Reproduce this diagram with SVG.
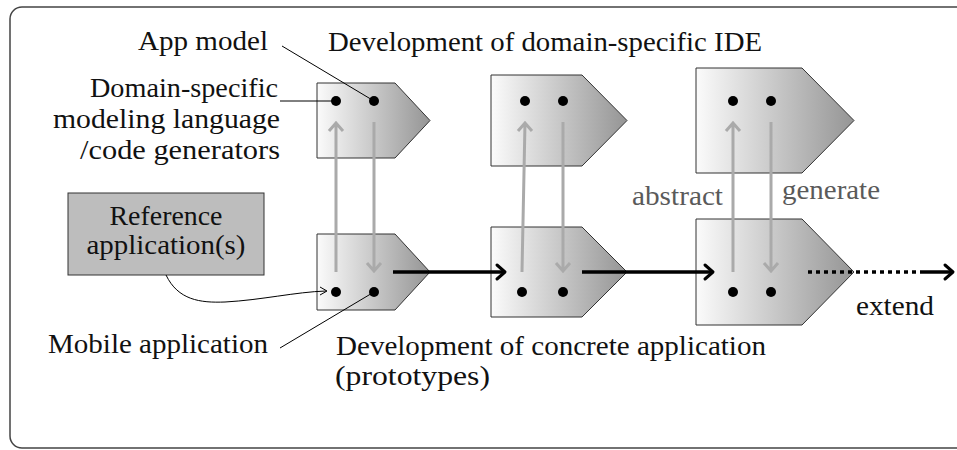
<svg xmlns="http://www.w3.org/2000/svg" width="957" height="450" viewBox="0 0 957 450">
<style>
text{font-family:"Liberation Serif","DejaVu Serif",serif;font-size:27px;fill:#111}
.g{fill:#5a5a5a}
.node{fill:url(#grad);stroke:#333;stroke-width:1}
.dot{fill:#000}
.gray{stroke:#aaa;stroke-width:3;fill:none}
.blk{stroke:#000;stroke-width:3.5;fill:none}
.head{stroke:#000;stroke-width:3;fill:none;stroke-linecap:round;stroke-linejoin:round}
.thin{stroke:#000;stroke-width:1;fill:none}
</style>
<defs>
<linearGradient id="grad" x1="0" y1="0" x2="1" y2="0">
<stop offset="0" stop-color="#fbfbfb"/>
<stop offset="1" stop-color="#959595"/>
</linearGradient>
</defs>
<rect x="10" y="7" width="965" height="441" rx="12" fill="#fff" stroke="#444" stroke-width="1.5"/>

<g id="ref">
<rect x="68" y="193" width="196" height="82" fill="#bdbdbd" stroke="#333" stroke-width="1"/>
<text x="166" y="225" text-anchor="middle" textLength="113" lengthAdjust="spacingAndGlyphs">Reference</text>
<text x="166" y="254" text-anchor="middle" textLength="159" lengthAdjust="spacingAndGlyphs">application(s)</text>
</g>

<g id="n1top"><polygon class="node" points="317,83 395,83 430,120.5 395,158 317,158"/><circle class="dot" cx="336" cy="101" r="5"/><circle class="dot" cx="374" cy="101" r="5"/></g>
<g id="n1bot"><polygon class="node" points="317,234 395,234 430,272 395,310 317,310"/><circle class="dot" cx="336" cy="292" r="5"/><circle class="dot" cx="374" cy="292" r="5"/></g>
<g id="n2top"><polygon class="node" points="491,75 582,75 627,120.5 582,166 491,166"/><circle class="dot" cx="525" cy="101" r="5"/><circle class="dot" cx="563" cy="101" r="5"/></g>
<g id="n2bot"><polygon class="node" points="491,227 582,227 627,272 582,317 491,317"/><circle class="dot" cx="522" cy="292" r="5"/><circle class="dot" cx="563" cy="292" r="5"/></g>
<g id="n3top"><polygon class="node" points="696,68 802,68 854,120.5 802,173 696,173"/><circle class="dot" cx="733" cy="101" r="5"/><circle class="dot" cx="771" cy="101" r="5"/></g>
<g id="n3bot"><polygon class="node" points="696,219 802,219 854,272 802,325 696,325"/><circle class="dot" cx="733" cy="292" r="5"/><circle class="dot" cx="771" cy="292" r="5"/></g>

<g id="connectors">
<path class="gray" d="M336,272 L336,123 M329,131 L336,123 L343,131"/>
<path class="gray" d="M374,122 L374,271 M367,263 L374,271 L381,263"/>
<path class="gray" d="M522,272 L525,123 M518,131 L525,123 L532,131"/>
<path class="gray" d="M563,122 L563,271 M556,263 L563,271 L570,263"/>
<path class="gray" d="M733,272 L733,123 M726,131 L733,123 L740,131"/>
<path class="gray" d="M771,122 L771,271 M764,263 L771,271 L778,263"/>

<path class="blk" d="M393,272 L503,272"/>
<path class="head" d="M497,265 L505,272 L497,279"/>
<path class="blk" d="M582,272 L711,272"/>
<path class="head" d="M705,265 L713,272 L705,279"/>
<path d="M808,272 L922,272" stroke="#000" stroke-width="3.5" stroke-dasharray="4 4" fill="none"/>
<path class="blk" d="M922,272 L951,272"/>
<path class="head" d="M945,265 L953,272 L945,279"/>

<path class="thin" d="M166,275 C178,300 200,303 225,302 C262,300 295,292 326,291"/>
<path class="thin" d="M320,287 L327,291 L320,295"/>
<path class="thin" d="M282,46 L374,101"/>
<path class="thin" d="M280,101 L336,101"/>
<path class="thin" d="M280,348 L374,292"/>
</g>

<g id="labels">
<text x="268" y="50" text-anchor="end" textLength="130" lengthAdjust="spacingAndGlyphs">App model</text>
<text x="328" y="51" textLength="434" lengthAdjust="spacingAndGlyphs">Development of domain-specific IDE</text>
<text x="278" y="97" text-anchor="end" textLength="188" lengthAdjust="spacingAndGlyphs">Domain-specific</text>
<text x="280" y="128" text-anchor="end" textLength="227" lengthAdjust="spacingAndGlyphs">modeling language</text>
<text x="280" y="159" text-anchor="end" textLength="200" lengthAdjust="spacingAndGlyphs">/code generators</text>
<text x="268" y="353" text-anchor="end" textLength="220" lengthAdjust="spacingAndGlyphs">Mobile application</text>
<text x="336" y="355" textLength="430" lengthAdjust="spacingAndGlyphs">Development of concrete application</text>
<text x="335" y="385" textLength="155" lengthAdjust="spacingAndGlyphs">(prototypes)</text>
<text class="g" x="632" y="205" textLength="91" lengthAdjust="spacingAndGlyphs">abstract</text>
<text class="g" x="782" y="199" textLength="98" lengthAdjust="spacingAndGlyphs">generate</text>
<text x="856" y="315" textLength="78" lengthAdjust="spacingAndGlyphs">extend</text>
</g>
</svg>
